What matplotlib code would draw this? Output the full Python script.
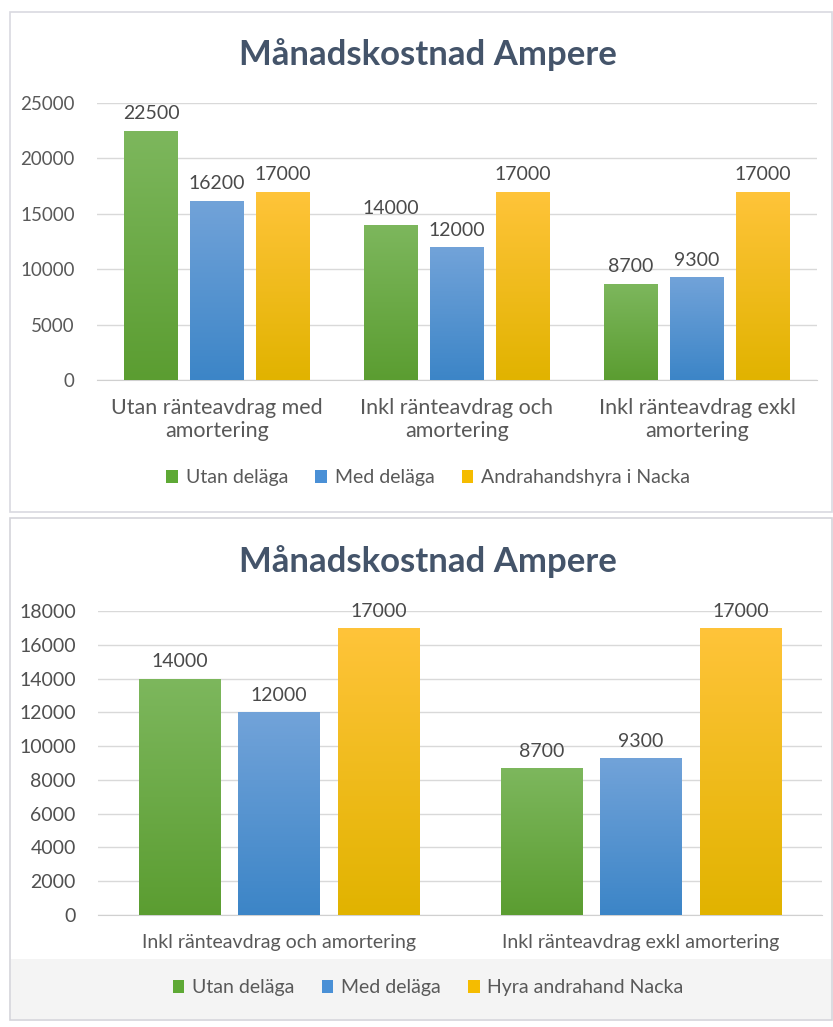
import numpy as np
import matplotlib
matplotlib.use("Agg")
import matplotlib.pyplot as plt
from matplotlib.colors import LinearSegmentedColormap
from matplotlib.patches import Rectangle, Patch

plt.rcParams['font.family'] = ['Lato', 'DejaVu Sans']

title = "Månadskostnad Ampere"

# chart 1
cats1 = ["Utan ränteavdrag med\namortering",
         "Inkl ränteavdrag och\namortering",
         "Inkl ränteavdrag exkl\namortering"]
utan1 = [22500, 14000, 8700]
med1 = [16200, 12000, 9300]
hyra1 = [17000, 17000, 17000]
names1 = ["Utan deläga", "Med deläga", "Andrahandshyra i Nacka"]
yticks1 = [0, 5000, 10000, 15000, 20000, 25000]

# chart 2
cats2 = ["Inkl ränteavdrag och amortering",
         "Inkl ränteavdrag exkl amortering"]
utan2 = [14000, 8700]
med2 = [12000, 9300]
hyra2 = [17000, 17000]
names2 = ["Utan deläga", "Med deläga", "Hyra andrahand Nacka"]
yticks2 = list(range(0, 18001, 2000))

# gradient (top, bottom) and legend colour per series
grads = [("#7db75d", "#5b9d31"),
         ("#72a3d9", "#3c85c7"),
         ("#ffc43a", "#e1b300")]
solid = ["#5ea935", "#4a90d6", "#f5bc00"]

W, H = 833, 1027
fig = plt.figure(figsize=(W / 100, H / 100), dpi=100)
fig.patch.set_facecolor("white")


def px(x0, y0, x1, y1):
    return [x0 / W, 1 - y1 / H, (x1 - x0) / W, (y1 - y0) / H]


# panel frames
fig.add_artist(Rectangle((10 / W, 1 - 512 / H), 822 / W, 500 / H, transform=fig.transFigure,
                         facecolor="white", edgecolor="#d9d9e0", lw=1.2, zorder=0))
fig.add_artist(Rectangle((10 / W, 1 - 1020 / H), 822 / W, 502 / H, transform=fig.transFigure,
                         facecolor="white", edgecolor="#d4d4da", lw=1.2, zorder=0))
fig.add_artist(Rectangle((11 / W, 1 - 1019 / H), 820 / W, 60 / H, transform=fig.transFigure,
                         facecolor="#f4f4f4", edgecolor="none", zorder=0))


def draw(rect, cats, series, names, yticks, ymax, lpad, title_y, leg_y,
         tickfs, catfs, lblfs, legfs, tickcol):
    ax = fig.add_axes(rect)
    ax.set_facecolor("none")
    x = np.arange(len(cats))
    w = 0.225
    offs = [-(w + 0.05), 0, w + 0.05]
    for i, vals in enumerate(series):
        bars = ax.bar(x + offs[i], vals, w, color=solid[i], zorder=2)
        cmap = LinearSegmentedColormap.from_list("g%d" % i, [grads[i][1], grads[i][0]])
        grad = np.linspace(0, 1, 256).reshape(-1, 1)
        for b in bars:
            bx, by = b.get_x(), b.get_y()
            bw, bh = b.get_width(), b.get_height()
            im = ax.imshow(grad, cmap=cmap, origin="lower", aspect="auto",
                           extent=[bx, bx + bw, by, by + bh], zorder=3)
            im.set_clip_path(b)
            ax.annotate("%d" % b.get_height(), (bx + bw / 2, by + bh),
                        xytext=(0, 6), textcoords="offset points",
                        ha="center", va="bottom", fontsize=lblfs, color="#4a4a4a")
    ax.set_xlim(-0.5, len(cats) - 0.5)
    ax.set_ylim(0, ymax)
    ax.set_yticks(yticks)
    ax.set_yticklabels([str(t) for t in yticks])
    ax.set_xticks(x)
    ax.set_xticklabels(cats, fontsize=catfs, color="#595959", linespacing=1.2)
    ax.tick_params(axis="y", length=0, pad=16, labelsize=tickfs, labelcolor=tickcol)
    ax.tick_params(axis="x", length=0, pad=lpad)
    ax.grid(axis="y", color="#d9d9d9", lw=1, zorder=0)
    for s in ["top", "right", "left"]:
        ax.spines[s].set_visible(False)
    ax.spines["bottom"].set_color("#d0d0d0")
    fig.text(0.514, 1 - title_y / H, title, ha="center", va="center",
             fontsize=25, fontweight="bold", color="#44546a")
    handles = [Patch(facecolor=solid[i], label=names[i]) for i in range(3)]
    fig.legend(handles=handles, loc="center", bbox_to_anchor=(0.514, 1 - leg_y / H),
               ncol=3, frameon=False, fontsize=legfs, handlelength=0.6,
               handleheight=0.6, handletextpad=0.4, columnspacing=1.4,
               labelcolor="#595959")
    return ax


draw(px(97, 103, 817, 380), cats1, [utan1, med1, hyra1], names1, yticks1, 25000,
     13, 55, 478, 13.5, 15.5, 14, 14, "#595959")
draw(px(98, 611, 822, 915), cats2, [utan2, med2, hyra2], names2, yticks2, 18000,
     14, 562, 988, 14, 14, 14, 14, "#505050")

fig.savefig("out.png", dpi=100)
